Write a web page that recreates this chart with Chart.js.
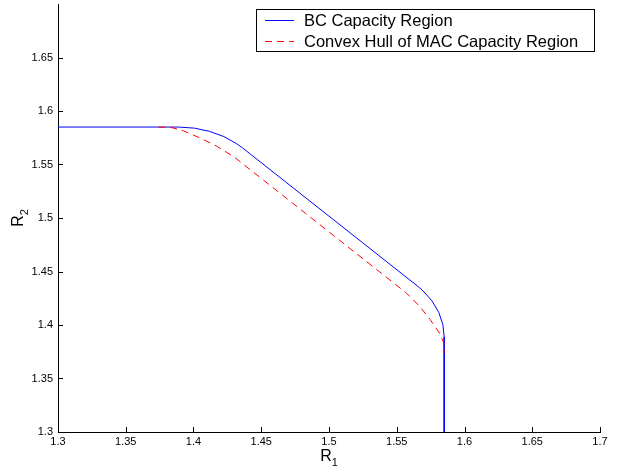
<!doctype html>
<html>

	<head>
		<meta charset="utf-8" />
		<title>Capacity Region</title>

		<style>
			html	{ height: 100% }
			body	{ height: 100%; margin: 0; padding: 0; background: #fff }
			canvas	{ display: block; }
		</style>

		<script src="https://cdn.jsdelivr.net/npm/chart.js@4/dist/chart.umd.min.js"></script>

		<script>

			// BC capacity region boundary (R1, R2)
			var bcR1 = [1.300, 1.389, 1.4006, 1.4118, 1.4224, 1.4319, 1.4362, 1.5655, 1.5694, 1.5761, 1.5810, 1.5840, 1.585, 1.585];
			var bcR2 = [1.585, 1.585, 1.5840, 1.5810, 1.5761, 1.5694, 1.5655, 1.4362, 1.4319, 1.4224, 1.4118, 1.4006, 1.389, 1.300];

			// convex hull of MAC capacity region boundary (R1, R2)
			var macR1 = [1.374, 1.383, 1.3925, 1.405, 1.417, 1.430, 1.557, 1.5672, 1.5747, 1.5815, 1.5848, 1.585];
			var macR2 = [1.585, 1.5848, 1.5815, 1.5747, 1.5672, 1.557, 1.430, 1.417, 1.405, 1.3925, 1.383, 1.374];

			var seriesNames = ['BC Capacity Region', 'Convex Hull of MAC Capacity Region'];

			var xTicks = [1.3, 1.35, 1.4, 1.45, 1.5, 1.55, 1.6, 1.65, 1.7];
			var yTicks = [1.3, 1.35, 1.4, 1.45, 1.5, 1.55, 1.6, 1.65];

			function points(xs, ys) {
				var out = [];
				for (var i = 0; i < xs.length; i++) {
					out.push({ x: xs[i], y: ys[i] });
				}
				return out;
			}

			function label(v) {
				return String(Number(v.toFixed(2)));
			}

			// matlab style: ticks pointing into the axes
			var innerTicks = {
				id: 'innerTicks',
				afterDraw: function(chart) {
					var ctx = chart.ctx;
					var area = chart.chartArea;
					var sx = chart.scales.x;
					var sy = chart.scales.y;
					ctx.save();
					ctx.strokeStyle = '#000';
					ctx.lineWidth = 1;
					ctx.beginPath();
					xTicks.forEach(function(v) {
						var px = Math.round(sx.getPixelForValue(v)) + 0.5;
						ctx.moveTo(px, area.bottom);
						ctx.lineTo(px, area.bottom - 5);
					});
					yTicks.forEach(function(v) {
						var py = Math.round(sy.getPixelForValue(v)) + 0.5;
						ctx.moveTo(area.left, py);
						ctx.lineTo(area.left + 5, py);
					});
					ctx.stroke();
					ctx.restore();
				}
			};

			// axis titles with subscripts
			var axisTitles = {
				id: 'axisTitles',
				afterDraw: function(chart) {
					var ctx = chart.ctx;
					var area = chart.chartArea;
					ctx.save();
					ctx.fillStyle = '#000';
					ctx.textBaseline = 'alphabetic';
					ctx.textAlign = 'left';

					var big = '16px "Liberation Sans", Arial, sans-serif';
					var small = '11px "Liberation Sans", Arial, sans-serif';

					ctx.font = big;
					var wR = ctx.measureText('R').width;
					ctx.font = small;
					var w1 = ctx.measureText('1').width;
					var x0 = (area.left + area.right) / 2 - (wR + w1) / 2;
					ctx.font = big;
					ctx.fillText('R', x0, 461);
					ctx.font = small;
					ctx.fillText('1', x0 + wR, 466);

					ctx.translate(23, (area.top + area.bottom) / 2);
					ctx.rotate(-Math.PI / 2);
					ctx.font = small;
					var w2 = ctx.measureText('2').width;
					var y0 = -(wR + w2) / 2;
					ctx.font = big;
					ctx.fillText('R', y0, 0);
					ctx.font = small;
					ctx.fillText('2', y0 + wR, 5);
					ctx.restore();
				}
			};

			// boxed legend in the upper right corner
			var boxLegend = {
				id: 'boxLegend',
				afterDraw: function(chart) {
					var ctx = chart.ctx;
					var sets = chart.data.datasets;
					ctx.save();
					ctx.fillStyle = '#fff';
					ctx.fillRect(256, 9, 338, 42);
					ctx.strokeStyle = '#000';
					ctx.lineWidth = 1;
					ctx.strokeRect(256.5, 9.5, 338, 42);

					var rows = [20.5, 41.5];
					for (var i = 0; i < sets.length; i++) {
						ctx.strokeStyle = sets[i].borderColor;
						ctx.setLineDash(sets[i].borderDash || []);
						ctx.beginPath();
						ctx.moveTo(265, rows[i]);
						ctx.lineTo(294, rows[i]);
						ctx.stroke();
						ctx.setLineDash([]);
						ctx.fillStyle = '#000';
						ctx.font = '16.5px "Liberation Sans", Arial, sans-serif';
						ctx.textBaseline = 'middle';
						ctx.fillText(sets[i].label, 304, rows[i] + 0.5);
					}
					ctx.restore();
				}
			};

			function createChart() {

				var canvas = document.getElementById('canvas');
				canvas.width = 618;
				canvas.height = 470;

				var tickFont = { family: '"Liberation Sans", Arial, sans-serif', size: 11 };

				new Chart(canvas.getContext('2d'), {
					type: 'scatter',
					data: {
						datasets: [{
							label: seriesNames[0],
							data: points(bcR1, bcR2),
							borderColor: '#0000ff',
							borderWidth: 1,
							showLine: true,
							pointRadius: 0,
							order: 2
						}, {
							label: seriesNames[1],
							data: points(macR1, macR2),
							borderColor: '#ff0000',
							borderWidth: 1,
							borderDash: [7, 5],
							showLine: true,
							pointRadius: 0,
							order: 1
						}]
					},
					options: {
						responsive: false,
						animation: false,
						devicePixelRatio: 1,
						layout: { padding: { left: 0, right: 18, top: 4, bottom: 0 } },
						plugins: {
							legend: { display: false },
							tooltip: { enabled: false }
						},
						scales: {
							x: {
								type: 'linear',
								min: 1.3,
								max: 1.7,
								afterBuildTicks: function(scale) {
									scale.ticks = xTicks.map(function(v) { return { value: v }; });
								},
								afterFit: function(scale) {
									scale.height = 38;
									scale.paddingLeft = 0;
									scale.paddingRight = 0;
								},
								grid: { display: true, drawOnChartArea: false, drawTicks: false },
								border: { display: true, color: '#000', width: 1 },
								ticks: {
									color: '#000',
									font: tickFont,
									padding: 3,
									maxRotation: 0,
									autoSkip: false,
									callback: function(v) { return label(v); }
								}
							},
							y: {
								type: 'linear',
								min: 1.3,
								max: 1.7,
								afterBuildTicks: function(scale) {
									scale.ticks = yTicks.map(function(v) { return { value: v }; });
								},
								afterFit: function(scale) {
									scale.width = 58;
									scale.paddingTop = 0;
									scale.paddingBottom = 0;
								},
								grid: { display: true, drawOnChartArea: false, drawTicks: false },
								border: { display: true, color: '#000', width: 1 },
								ticks: {
									color: '#000',
									font: tickFont,
									padding: 5,
									autoSkip: false,
									callback: function(v) { return label(v); }
								}
							}
						}
					},
					plugins: [innerTicks, axisTitles, boxLegend]
				});
			}

		</script>

	</head>

	<body onload="createChart();">

		<canvas id="canvas"></canvas>

	</body>

</html>
